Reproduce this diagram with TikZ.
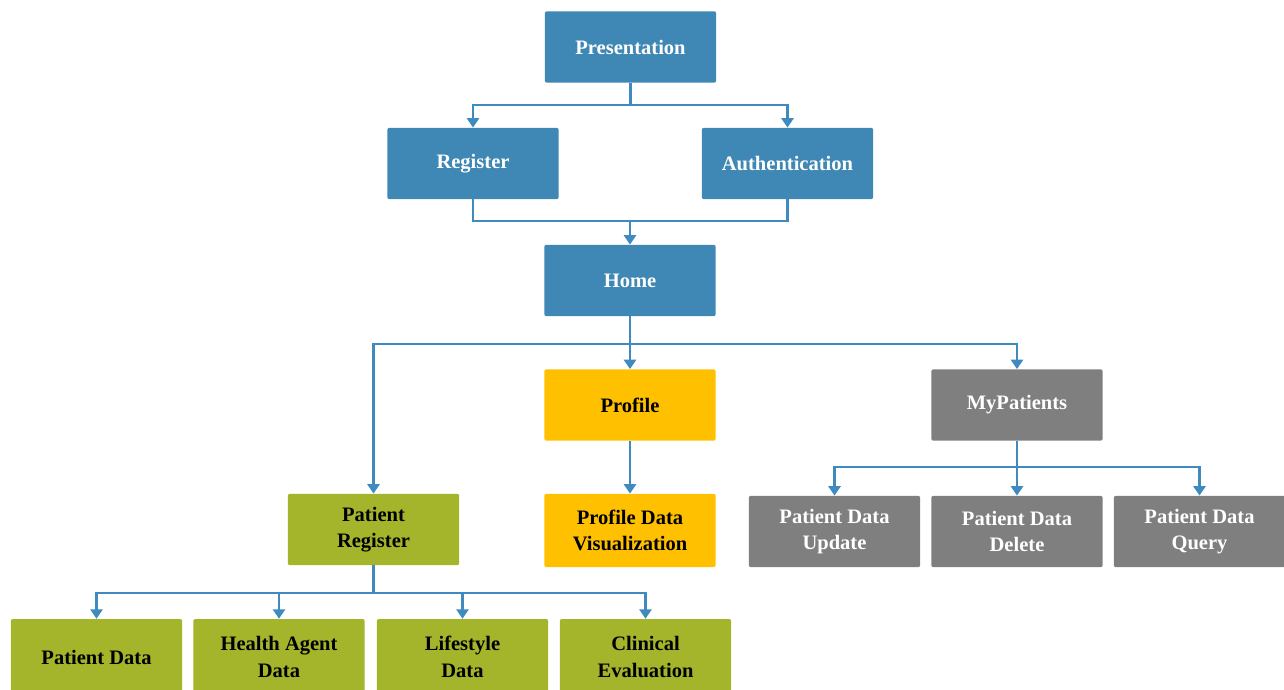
\documentclass[tikz,border=0pt]{standalone}
\usepackage{fontspec}
\setmainfont{Liberation Serif}
\usetikzlibrary{arrows.meta}
\definecolor{bxblue}{HTML}{3F87B4}
\definecolor{bxyellow}{HTML}{FFC000}
\definecolor{bxgray}{HTML}{7F7F7F}
\definecolor{bxgreen}{HTML}{A4B52B}
\definecolor{lnblue}{HTML}{3F8BC0}
\tikzset{
  box/.style={rounded corners=1.5pt, minimum width=128.5pt, minimum height=53.5pt,
    align=center, font=\bfseries\fontsize{15.4}{19.8}\selectfont, inner sep=2pt},
  bluebox/.style={box, fill=bxblue, text=white},
  yellowbox/.style={box, fill=bxyellow, text=black},
  graybox/.style={box, fill=bxgray, text=white},
  greenbox/.style={box, fill=bxgreen, text=black},
  conn/.style={draw=lnblue, line width=2.2pt},
  arr/.style={conn, -{Triangle[width=9pt,length=7pt]}}
}
\begin{document}
\begin{tikzpicture}[x=0.75pt,y=-0.75pt]
\useasboundingbox (0,0) rectangle (1284,689);
\clip (0,0) rectangle (1284,689);
% nodes
\node[bluebox] (pres) at (630.5,47) {Presentation};
\node[bluebox] (reg) at (473,163.5) {Register};
\node[bluebox] (auth) at (787.5,163.5) {Authentication};
\node[bluebox] (home) at (630,280.5) {Home};
\node[yellowbox] (prof) at (630,405) {Profile};
\node[graybox] (myp) at (1017,405) {MyPatients};
\node[greenbox] (preg) at (373.5,529.5) {Patient\\Register};
\node[yellowbox, minimum height=55pt] (pdv) at (630,530.5) {Profile Data\\Visualization};
\node[graybox] (pdu) at (834.5,531.5) {Patient Data\\Update};
\node[graybox] (pdd) at (1017,531.5) {Patient Data\\Delete};
\node[graybox] (pdq) at (1199.5,531.5) {Patient Data\\Query};
\node[greenbox, minimum height=57pt] (pd) at (96.5,657) {Patient Data};
\node[greenbox, minimum height=57pt] (had) at (279,657) {Health Agent\\Data};
\node[greenbox, minimum height=57pt] (lsd) at (462.5,657) {Lifestyle\\Data};
\node[greenbox, minimum height=57pt] (ce) at (645.5,657) {Clinical\\Evaluation};
% connectors
\coordinate (j1) at (630.5,105);
\draw[conn] (pres.south) -- (j1);
\draw[arr] (j1) -| (reg.north);
\draw[arr] (j1) -| (auth.north);
\coordinate (j2) at (630,221);
\draw[conn] (reg.south) |- (j2);
\draw[conn] (auth.south) |- (j2);
\draw[arr] (j2) -- (home.north);
\coordinate (j3) at (630,344);
\draw[conn] (home.south) -- (j3);
\draw[arr] (j3) -| (preg.north);
\draw[arr] (j3) -- (prof.north);
\draw[arr] (j3) -| (myp.north);
\draw[arr] (prof.south) -- (pdv.north);
\coordinate (j4) at (1017,467);
\draw[conn] (myp.south) -- (j4);
\draw[arr] (j4) -| (pdu.north);
\draw[arr] (j4) -- (pdd.north);
\draw[arr] (j4) -| (pdq.north);
\coordinate (j5) at (373.5,593);
\draw[conn] (preg.south) -- (j5);
\draw[arr] (j5) -| (pd.north);
\draw[arr] (j5) -| (had.north);
\draw[arr] (j5) -| (lsd.north);
\draw[arr] (j5) -| (ce.north);
\end{tikzpicture}
\end{document}
